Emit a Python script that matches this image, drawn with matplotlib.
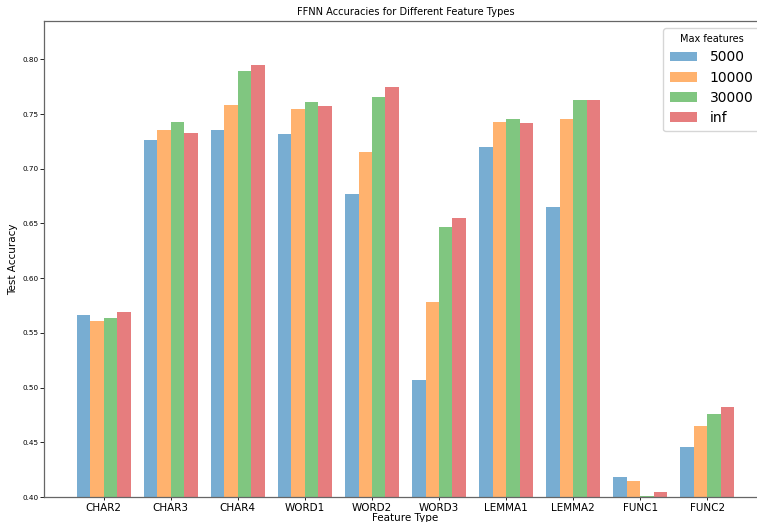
import matplotlib

matplotlib.use("Agg")
import matplotlib.pyplot as plt
import numpy as np

FEATURE_TYPES = ["CHAR2", "CHAR3", "CHAR4", "WORD1", "WORD2",
                 "WORD3", "LEMMA1", "LEMMA2", "FUNC1", "FUNC2"]
MAX_FEATURES = ["5000", "10000", "30000", "inf"]

acc_5000 = [0.566, 0.726, 0.735, 0.732, 0.677, 0.507, 0.720, 0.665, 0.418, 0.446]
acc_10000 = [0.561, 0.735, 0.758, 0.755, 0.715, 0.578, 0.743, 0.745, 0.415, 0.465]
acc_30000 = [0.564, 0.743, 0.789, 0.761, 0.766, 0.647, 0.745, 0.763, 0.401, 0.476]
acc_inf = [0.569, 0.733, 0.795, 0.757, 0.775, 0.655, 0.742, 0.763, 0.405, 0.482]

COLORS = ["tab:blue", "tab:orange", "tab:green", "tab:red"]

plt.rcParams["font.family"] = "DejaVu Sans"

fig = plt.figure(figsize=(7.57, 5.22), dpi=100)
# axes run slightly past the right edge of the canvas
ax = fig.add_axes([44 / 757, 25 / 522, 723 / 757, 476 / 522])

x = np.arange(len(FEATURE_TYPES))
width = 0.2
series = [acc_5000, acc_10000, acc_30000, acc_inf]
for k, (vals, label, color) in enumerate(zip(series, MAX_FEATURES, COLORS)):
    offset = (k - 1.5) * width
    ax.bar(x + offset, vals, width, label=label, color=color, alpha=0.6)

ax.set_ylim(0.40, 0.835)
ax.set_xticks(x)
ax.set_xticklabels(FEATURE_TYPES, fontsize=7.5)
ax.tick_params(axis="y", labelsize=5.2, length=2.8, width=0.6, pad=1.2)
ax.tick_params(axis="x", length=2.5, width=0.6, pad=2)
yticks = np.arange(0.40, 0.801, 0.05)
ax.set_yticks(yticks)
ax.set_yticklabels([f"{t:.2f}" for t in yticks])
for spine in ax.spines.values():
    spine.set_color("0.4")
    spine.set_linewidth(0.9)

ax.set_title("FFNN Accuracies for Different Feature Types", fontsize=7.1, pad=4)
ax.set_xlabel("Feature Type", fontsize=7.5, labelpad=0)
ax.set_ylabel("Test Accuracy", fontsize=7.5)
ax.yaxis.set_label_coords(-0.036, 0.5)

leg = ax.legend(title="Max features", loc="upper right", fontsize=10,
                title_fontsize=7, borderaxespad=0.5, handlelength=2.0,
                handletextpad=0.9, labelspacing=0.45, borderpad=0.45)

fig.savefig("out.png", dpi=100)
